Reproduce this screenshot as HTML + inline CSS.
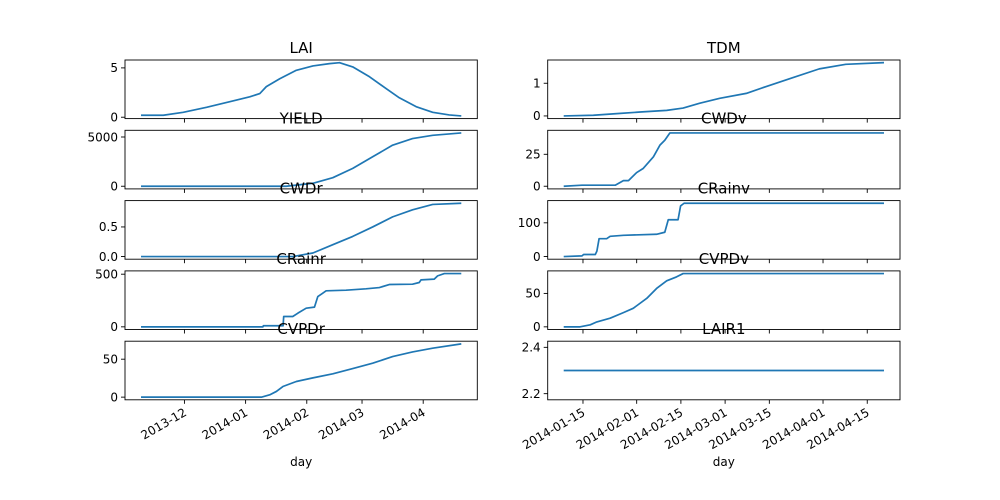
<!DOCTYPE html>
<html><head><meta charset="utf-8"><style>
html,body{margin:0;padding:0;background:#fff}
svg{display:block;font-family:"DejaVu Sans","Liberation Sans",sans-serif}
</style></head><body>
<svg id="fig" width="1000" height="500" viewBox="0 0 1000 500" xmlns="http://www.w3.org/2000/svg"></svg>
<script>
// x values are days since 2013-11-09
const laiX=[0,11.3,21.4,33.2,45,55.1,60.2,63.5,70.3,78.7,87.1,95.5,100.6,107.3,115.8,124.2,130.9,139.4,147.8,156.2,162.3];
const laiY=[0.2,0.2,0.5,1.0,1.57,2.07,2.4,3.1,3.9,4.76,5.2,5.43,5.53,5.1,4.1,2.9,1.97,1.07,0.5,0.23,0.13];
const yieldX=[0,73.6,87.1,97.2,107.3,117.4,127.5,137.6,147.8,162.3];
const yieldY=[0,0,300,870,1810,2990,4170,4840,5170,5410];
const cwdrX=[0,77,87.1,97.2,107.3,117.4,127.5,137.6,147.8,162.3];
const cwdrY=[0,0,0.06,0.2,0.34,0.5,0.67,0.79,0.88,0.9];
const crainrX=[0,61.8,62,72,72.3,76.9,79.5,83.7,87.9,89.6,92.1,93.8,103.9,114,120.8,125.8,137.6,141,141.9,148.6,150.3,153.7,162.3];
const crainrY=[0,0,10,10,98,98,130,177,187,288,320,342,348,361,373,402,405,421,446,453,484,506,506];
const cvpdrX=[0,61,65.2,68.6,71.9,78.7,87.1,97.2,107.3,117.4,127.5,137.6,147.8,162.3];
const cvpdrY=[0,0,3,7.5,14,20.6,25.4,30.7,37.7,44.7,53.5,59.6,64.5,70.2];
const tdmX=[60.9,70.3,77.7,85.1,93.5,98.7,104,110.3,118.7,125,133.4,141.8,150.2,162.3];
const tdmY=[0,0.02,0.07,0.12,0.17,0.24,0.39,0.54,0.69,0.9,1.17,1.44,1.58,1.63];
const cwdvX=[60.9,66.7,77.2,79.8,81.4,84,86.1,89.3,91.4,92.9,94.5,162.3];
const cwdvY=[0,0.8,0.8,4.4,4.4,10.7,14,23,32.3,36,41.7,41.7];
const crainvX=[60.9,66.7,67.2,70.9,71.4,72.1,74.5,75.6,79.8,90.3,92.9,94,97.1,97.9,99,162.3];
const crainvY=[0,2,6,6,16,53,53,60,63,66,72,109,109,150,158,158];
const cvpdvX=[60.9,66.1,69.3,71.4,75.6,79.8,82.9,87.2,90.3,93.5,96.6,98.7,162.3];
const cvpdvY=[0,0,3,7.4,12.9,21.3,27.7,42.6,57.4,68.8,74.7,79.7,79.7];
const lair1X=[60.9,162.3];
const lair1Y=[2.3,2.3];
const leftTickDays=[22,53,84,112,143];
const leftTickLabels=["2013-12","2014-01","2014-02","2014-03","2014-04"];
const rightTickDays=[67,84,98,112,126,143,157];
const rightTickLabels=["2014-01-15","2014-02-01","2014-02-15","2014-03-01","2014-03-15","2014-04-01","2014-04-15"];

const panels=[
 {t:"LAI",c:0,r:0,x:laiX,y:laiY,ticks:[0,5],labels:["0","5"]},
 {t:"TDM",c:1,r:0,x:tdmX,y:tdmY,ticks:[0,1],labels:["0","1"]},
 {t:"YIELD",c:0,r:1,x:yieldX,y:yieldY,ticks:[0,5000],labels:["0","5000"]},
 {t:"CWDv",c:1,r:1,x:cwdvX,y:cwdvY,ticks:[0,25],labels:["0","25"]},
 {t:"CWDr",c:0,r:2,x:cwdrX,y:cwdrY,ticks:[0,0.5],labels:["0.0","0.5"]},
 {t:"CRainv",c:1,r:2,x:crainvX,y:crainvY,ticks:[0,100],labels:["0","100"]},
 {t:"CRainr",c:0,r:3,x:crainrX,y:crainrY,ticks:[0,500],labels:["0","500"]},
 {t:"CVPDv",c:1,r:3,x:cvpdvX,y:cvpdvY,ticks:[0,50],labels:["0","50"]},
 {t:"CVPDr",c:0,r:4,x:cvpdrX,y:cvpdrY,ticks:[0,50],labels:["0","50"]},
 {t:"LAIR1",c:1,r:4,x:lair1X,y:lair1Y,ticks:[2.2,2.4],labels:["2.2","2.4"]}
];
const NS="http://www.w3.org/2000/svg";
const svg=document.getElementById('fig');
function mk(tag,attrs,parent){const e=document.createElementNS(NS,tag);for(const k in attrs)e.setAttribute(k,attrs[k]);(parent||svg).appendChild(e);return e;}
const colL=[125,477.3],colR=[547.7,900];
const rowH=58.6,gap=11.7,top0=60;
function xDomain(c){const xs=c===0?[0,162.3]:[60.9,162.3];const m=(xs[1]-xs[0])*0.05;return[xs[0]-m,xs[1]+m];}
const titles=[];
panels.forEach(p=>{
 const cx=p.c===0?colL:colR;
 const y0=top0+p.r*(rowH+gap),y1=y0+rowH;
 const xd=xDomain(p.c);
 let mn=Math.min(...p.y),mx=Math.max(...p.y);
 if(mx-mn<1e-9){mn-=0.05*Math.abs(mn);mx+=0.05*Math.abs(mx);}
 const m=(mx-mn)*0.05;mn-=m;mx+=m;
 const X=v=>cx[0]+(v-xd[0])/(xd[1]-xd[0])*(cx[1]-cx[0]);
 const Y=v=>y1-(v-mn)/(mx-mn)*(y1-y0);
 const g=mk('g',{});
 
 
 const line=mk('polyline',{points:p.x.map((v,i)=>X(v).toFixed(2)+','+Y(p.y[i]).toFixed(2)).join(' '),fill:'none',stroke:'#1f77b4','stroke-width':1.7,'stroke-linejoin':'round'},g);
 
 
 const fr=mk('rect',{x:cx[0],y:y0,width:cx[1]-cx[0],height:rowH,fill:'none',stroke:'#000','stroke-width':0.9},g);
 
 
 p.ticks.forEach((tv,i)=>{
  const ty=Y(tv);
  mk('line',{x1:cx[0]-4,x2:cx[0],y1:ty,y2:ty,stroke:'#000','stroke-width':0.9},g);
  const tl=mk('text',{x:cx[0]-7,y:ty+4.3,'text-anchor':'end','font-size':12,fill:'#000'},g);
  tl.textContent=p.labels[i];
  
  
 });
 const td=p.c===0?leftTickDays:rightTickDays, tlb=p.c===0?leftTickLabels:rightTickLabels;
 td.forEach((d,i)=>{
  const tx=X(d);
  mk('line',{x1:tx,x2:tx,y1:y1,y2:y1+4,stroke:'#000','stroke-width':0.9},g);
  if(p.r===4){
   const xl=mk('text',{x:0,y:0,'text-anchor':'end','font-size':12,fill:'#000',transform:`translate(${tx+3},${y1+15}) rotate(-30)`},g);
   xl.textContent=tlb[i];
   
   
  }
 });
 if(p.r===4){
  const dl=mk('text',{x:(cx[0]+cx[1])/2,y:466,'text-anchor':'middle','font-size':12,fill:'#000'},g);
  dl.textContent='day';
  
  
 }
 titles.push({t:p.t,x:(cx[0]+cx[1])/2,y:y0-7});
});
titles.forEach(o=>{
 const tt=mk('text',{x:o.x,y:o.y,'text-anchor':'middle','font-size':15,fill:'#000'});
 tt.textContent=o.t;
 
 
});
</script>
</body></html>
